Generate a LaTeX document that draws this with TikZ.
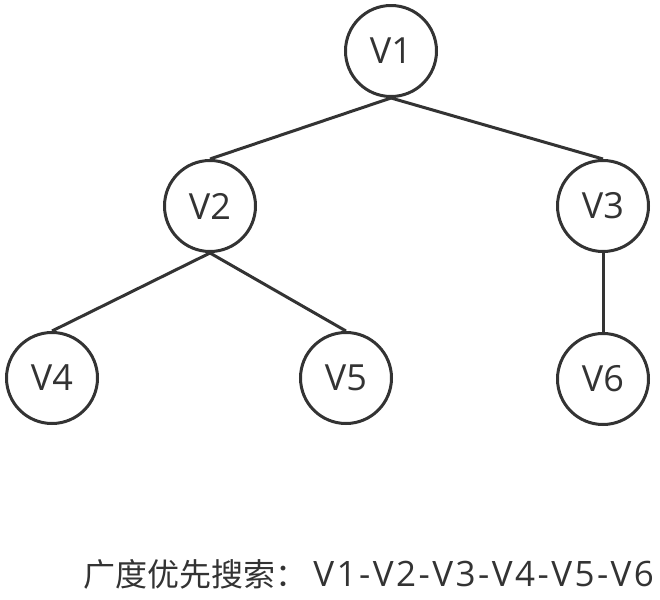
\documentclass[tikz,border=0pt]{standalone}
\usepackage{fontspec}
\setmainfont{Open Sans}
\newfontfamily\cjk{Noto Sans CJK SC}
\newfontfamily\wide[LetterSpace=7]{Open Sans}
\definecolor{ink}{HTML}{333333}
\tikzset{
  vertex/.style={circle,draw=ink,line width=1.5pt,minimum size=45.5pt,inner sep=0pt,
    text=ink,font=\fontsize{18}{20}\selectfont},
  edge/.style={draw=ink,line width=1.5pt}
}
\begin{document}
\begin{tikzpicture}[x=0.5pt,y=-0.5pt]
\useasboundingbox (0,0) rectangle (660,600);
% vertices
\node[vertex] (v1) at (391,51) {V1};
\node[vertex] (v2) at (210,206) {V2};
\node[vertex] (v3) at (603,206) {V3};
\node[vertex] (v4) at (52,378) {V4};
\node[vertex] (v5) at (346,378) {V5};
\node[vertex] (v6) at (603,379) {V6};
% edges
\draw[edge] (v1.south)--(v2.north);
\draw[edge] (v1.south)--(v3.north);
\draw[edge] (v2.south)--(v4.north);
\draw[edge] (v2.south)--(v5.north);
\draw[edge] (v3.south)--(v6.north);
% result
\node[anchor=base west,inner sep=0pt,text=ink,font=\fontsize{16}{20}\selectfont] (bfs) at (83,586)
  {{\cjk 广度优先搜索：}\hspace{3pt}{\wide\fontsize{17.5}{20}\selectfont V1-V2-V3-V4-V5-V6}};
\end{tikzpicture}
\end{document}
